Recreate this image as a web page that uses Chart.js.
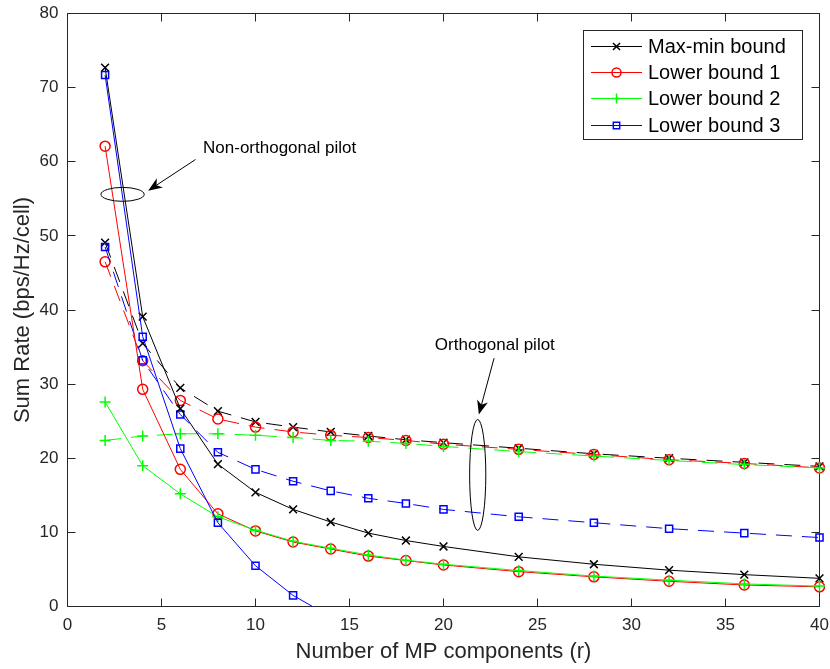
<!DOCTYPE html>
<html><head><meta charset="utf-8">
<script src="https://cdn.jsdelivr.net/npm/chart.js@4.4.1/dist/chart.umd.min.js"></script>
<style>html,body{margin:0;padding:0;background:#fff;}</style>
</head><body>
<canvas id="c" width="830" height="669"></canvas>
<script>
// ---------- data ----------
const rValues = [2, 4, 6, 8, 10, 12, 14, 16, 18, 20, 24, 28, 32, 36, 40];
const rValuesLb3NonOrth = [2, 4, 6, 8, 10, 12, 14];

// non-orthogonal pilot (solid)
const maxMinNonOrth = [72.7, 39.1, 26.7, 19.2, 15.4, 13.1, 11.4, 9.9, 8.9, 8.1, 6.7, 5.7, 4.9, 4.3, 3.8];
const lb1NonOrth    = [62.1, 29.3, 18.5, 12.5, 10.2, 8.7, 7.75, 6.8, 6.2, 5.6, 4.7, 4.0, 3.4, 2.9, 2.65];
const lb2NonOrth    = [27.6, 19.0, 15.2, 12.1, 10.3, 8.8, 7.85, 6.95, 6.25, 5.7, 4.85, 4.1, 3.55, 3.05, 2.75];
const lb3NonOrth    = [71.7, 36.4, 21.3, 11.3, 5.5, 1.5, -1.4];

// orthogonal pilot (dashed)
const maxMinOrth = [49.1, 35.5, 29.5, 26.35, 24.9, 24.2, 23.55, 23.0, 22.5, 22.1, 21.35, 20.6, 20.0, 19.45, 18.9];
const lb1Orth    = [46.5, 33.15, 27.8, 25.3, 24.2, 23.55, 23.1, 22.8, 22.4, 21.9, 21.2, 20.5, 19.8, 19.3, 18.7];
const lb2Orth    = [22.4, 23.0, 23.3, 23.3, 23.1, 22.8, 22.4, 22.3, 22.0, 21.6, 20.9, 20.3, 19.7, 19.15, 18.7];
const lb3Orth    = [48.5, 33.2, 25.9, 20.8, 18.5, 16.9, 15.6, 14.6, 13.9, 13.1, 12.1, 11.3, 10.5, 9.9, 9.3];

const xTicks = [0, 5, 10, 15, 20, 25, 30, 35, 40];
const yTicks = [0, 10, 20, 30, 40, 50, 60, 70, 80];
const seriesNames = ['Max-min bound', 'Lower bound 1', 'Lower bound 2', 'Lower bound 3'];
const xTitle = 'Number of MP components (r)';
const yTitle = 'Sum Rate (bps/Hz/cell)';
const nonOrthLabel = 'Non-orthogonal pilot';
const orthLabel = 'Orthogonal pilot';

// ---------- styles ----------
const FONT = '"Liberation Sans", Arial, Helvetica, sans-serif';
const AXIS_COLOR = '#262626';
const seriesStyles = [
  {color: '#000000', pointStyle: 'crossRot', radius: 5.5},
  {color: '#ff0000', pointStyle: 'circle', radius: 5},
  {color: '#00ff00', pointStyle: 'cross', radius: 5.5},
  {color: '#0000ff', pointStyle: 'rect', radius: 5}
];
const DASH = [16, 10];

function pts(xs, ys) { return ys.map((v, i) => ({x: xs[i], y: v})); }

function mkDs(idx, xs, ys, dashed, order, clip) {
  const s = seriesStyles[idx];
  return {
    label: seriesNames[idx] + (dashed ? ' (orthogonal)' : ''),
    data: pts(xs, ys),
    showLine: true,
    borderColor: s.color,
    borderWidth: 1,
    borderDash: dashed ? DASH : [],
    pointStyle: s.pointStyle,
    pointRadius: s.radius,
    pointBorderColor: s.color,
    pointBackgroundColor: 'rgba(0,0,0,0)',
    pointBorderWidth: 1.5,
    tension: 0,
    order: order,
    clip: clip === undefined ? false : clip
  };
}

const datasets = [
  mkDs(0, rValues, maxMinNonOrth, false, 4),
  mkDs(1, rValues, lb1NonOrth, false, 3),
  mkDs(2, rValues, lb2NonOrth, false, 2),
  mkDs(3, rValuesLb3NonOrth, lb3NonOrth, false, 1, {left: false, top: false, right: false, bottom: 0}),
  mkDs(0, rValues, maxMinOrth, true, 8),
  mkDs(1, rValues, lb1Orth, true, 7),
  mkDs(2, rValues, lb2Orth, true, 6),
  mkDs(3, rValues, lb3Orth, true, 5)
];

// annotation shapes, in data coordinates
const annotations = {
  nonOrth: {
    ellipse: {x: 2.93, y: 55.6, rx: 1.15, ry: 0.94},
    arrow: {x1: 6.81, y1: 60.3, x2: 4.29, y2: 56.1},
    text: {x: 7.21, y: 61.76, align: 'left'}
  },
  orth: {
    ellipse: {x: 21.82, y: 17.75, rx: 0.43, ry: 7.48},
    arrow: {x1: 22.69, y1: 33.5, x2: 21.88, y2: 25.9},
    text: {x: 22.73, y: 35.2, align: 'center'}
  }
};

const framePlugin = {
  id: 'frame',
  beforeDatasetsDraw(chart) {
    const {ctx, chartArea: a, scales: {x, y}} = chart;
    ctx.save();
    ctx.strokeStyle = AXIS_COLOR;
    ctx.lineWidth = 1;
    ctx.beginPath();
    ctx.rect(a.left, a.top, a.right - a.left, a.bottom - a.top);
    ctx.stroke();
    const tl = 8;
    ctx.beginPath();
    x.ticks.forEach(t => {
      const px = Math.round(x.getPixelForValue(t.value) - 0.5) + 0.5;
      ctx.moveTo(px, a.bottom); ctx.lineTo(px, a.bottom - tl);
      ctx.moveTo(px, a.top); ctx.lineTo(px, a.top + tl);
    });
    y.ticks.forEach(t => {
      const py = Math.round(y.getPixelForValue(t.value) - 0.5) + 0.5;
      ctx.moveTo(a.left, py); ctx.lineTo(a.left + tl, py);
      ctx.moveTo(a.right, py); ctx.lineTo(a.right - tl, py);
    });
    ctx.stroke();
    ctx.restore();
  },
  afterDraw(chart) {
    const {ctx, scales: {x, y}} = chart;
    ctx.save();
    const sx = (v) => x.getPixelForValue(v), sy = (v) => y.getPixelForValue(v);
    const drawArrow = (ar) => {
      const x1 = sx(ar.x1), y1 = sy(ar.y1), x2 = sx(ar.x2), y2 = sy(ar.y2);
      const ang = Math.atan2(y2 - y1, x2 - x1);
      const hl = 14, hw = 5.5, notch = 10;
      const ux = Math.cos(ang), uy = Math.sin(ang);
      const bx = x2 - ux * hl, by = y2 - uy * hl;
      const nx = x2 - ux * notch, ny = y2 - uy * notch;
      ctx.strokeStyle = '#000'; ctx.fillStyle = '#000'; ctx.lineWidth = 1;
      ctx.beginPath(); ctx.moveTo(x1, y1); ctx.lineTo(nx, ny); ctx.stroke();
      ctx.beginPath();
      ctx.moveTo(x2, y2);
      ctx.lineTo(bx - uy * hw, by + ux * hw);
      ctx.lineTo(nx, ny);
      ctx.lineTo(bx + uy * hw, by - ux * hw);
      ctx.closePath(); ctx.fill();
    };
    const drawEllipse = (e) => {
      const cx = sx(e.x), cy = sy(e.y);
      const rx = Math.abs(sx(e.x + e.rx) - cx), ry = Math.abs(sy(e.y + e.ry) - cy);
      ctx.strokeStyle = '#000'; ctx.lineWidth = 1;
      ctx.beginPath(); ctx.ellipse(cx, cy, rx, ry, 0, 0, Math.PI * 2); ctx.stroke();
    };
    [[annotations.nonOrth, nonOrthLabel], [annotations.orth, orthLabel]].forEach(([an, label]) => {
      drawEllipse(an.ellipse);
      drawArrow(an.arrow);
      ctx.fillStyle = '#000';
      ctx.font = '17px ' + FONT;
      ctx.textAlign = an.text.align;
      ctx.textBaseline = 'middle';
      ctx.fillText(label, sx(an.text.x), sy(an.text.y));
    });

    // legend
    const box = {x: 583.5, y: 30.5, w: 219, h: 109};
    ctx.fillStyle = '#fff';
    ctx.fillRect(box.x, box.y, box.w, box.h);
    ctx.strokeStyle = AXIS_COLOR; ctx.lineWidth = 1;
    ctx.strokeRect(box.x, box.y, box.w, box.h);
    const rowY0 = 45.7, rowDy = 26.3;
    seriesNames.forEach((name, i) => {
      const s = seriesStyles[i];
      const yy = Math.round(rowY0 + i * rowDy) + 0.5;
      ctx.strokeStyle = s.color; ctx.lineWidth = 1;
      ctx.beginPath(); ctx.moveTo(591, yy); ctx.lineTo(642, yy); ctx.stroke();
      ctx.fillStyle = 'rgba(0,0,0,0)';
      ctx.lineWidth = 1.5;
      Chart.helpers.drawPoint(ctx, {pointStyle: s.pointStyle, radius: s.radius - 0.5, rotation: 0, borderWidth: 1.5}, 616.5, yy);
      ctx.fillStyle = '#000';
      ctx.font = '20px ' + FONT;
      ctx.textAlign = 'left'; ctx.textBaseline = 'middle';
      ctx.fillText(name, 648, yy + 1);
    });
    ctx.restore();
  }
};

new Chart(document.getElementById('c'), {
  type: 'scatter',
  data: {datasets},
  options: {
    responsive: false,
    animation: false,
    devicePixelRatio: 1,
    layout: {padding: {top: 13.5, right: 10.5, left: 0, bottom: 0}},
    plugins: {legend: {display: false}, tooltip: {enabled: false}},
    scales: {
      x: {
        type: 'linear', min: 0, max: 40,
        afterBuildTicks: s => { s.ticks = xTicks.map(v => ({value: v})); },
        ticks: {font: {family: FONT, size: 17}, color: AXIS_COLOR, padding: 9, maxRotation: 0, autoSkip: false},
        grid: {display: false, drawTicks: false},
        border: {display: false},
        title: {display: true, text: xTitle, font: {family: FONT, size: 22}, color: AXIS_COLOR, padding: {top: 0, bottom: 4}},
        afterFit: s => { s.height = 62.5; s.paddingLeft = 0; s.paddingRight = 0; s.paddingTop = 0; s.paddingBottom = 0; }
      },
      y: {
        type: 'linear', min: 0, max: 80,
        afterBuildTicks: s => { s.ticks = yTicks.map(v => ({value: v})); },
        ticks: {font: {family: FONT, size: 17}, color: AXIS_COLOR, padding: 9, autoSkip: false},
        grid: {display: false, drawTicks: false},
        border: {display: false},
        title: {display: true, text: yTitle, font: {family: FONT, size: 22}, color: AXIS_COLOR, padding: {top: 10, bottom: 0}},
        afterFit: s => { s.width = 67.5; s.paddingLeft = 0; s.paddingRight = 0; s.paddingTop = 0; s.paddingBottom = 0; }
      }
    }
  },
  plugins: [framePlugin]
});
</script>
</body></html>
